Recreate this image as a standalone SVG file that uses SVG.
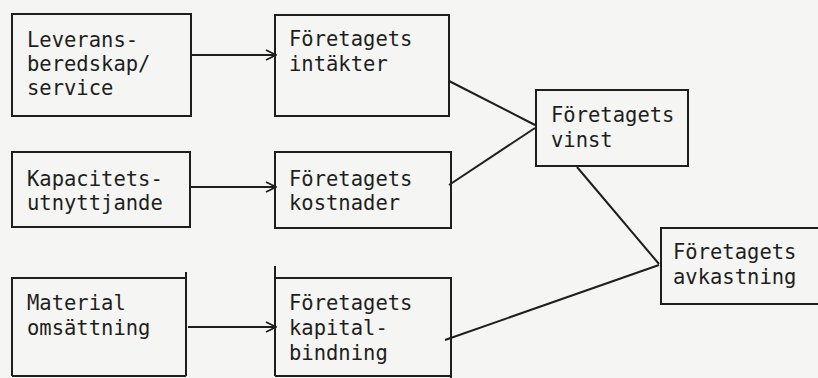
<svg xmlns="http://www.w3.org/2000/svg" width="818" height="378" viewBox="0 0 818 378">
<defs>
<style>
.box{fill:none;stroke:#1e1e1e;stroke-width:2}
.ln{fill:none;stroke:#1e1e1e;stroke-width:2}
text{font-family:"DejaVu Sans Mono","Liberation Mono",monospace;font-size:20.5px;fill:#1e1e1e}
</style>
<marker id="ah" viewBox="0 0 12 12" refX="11" refY="6" markerWidth="12" markerHeight="12" markerUnits="userSpaceOnUse" orient="auto">
<path d="M1,1 L11,6 L1,11" fill="none" stroke="#1e1e1e" stroke-width="1.8"/>
</marker>
</defs>
<rect width="818" height="378" fill="#f5f5f3"/>
<g id="n-leverans">
<rect class="box" x="12" y="14" width="179" height="102"/>
<text x="27" y="47">Leverans-</text>
<text x="27" y="71">beredskap/</text>
<text x="27" y="95">service</text>
</g>
<g id="n-kapacitet">
<rect class="box" x="12" y="152" width="178" height="75"/>
<text x="27" y="186">Kapacitets-</text>
<text x="27" y="210">utnyttjande</text>
</g>
<g id="n-material">
<path class="box" d="M12,376 V278 H186 V376 M12,376 H186 M186,278 V272"/>
<text x="27" y="310">Material</text>
<text x="27" y="335">omsättning</text>
</g>
<g id="n-intakter">
<rect class="box" x="275" y="15" width="174" height="101"/>
<text x="289" y="46">Företagets</text>
<text x="289" y="71">intäkter</text>
</g>
<g id="n-kostnader">
<rect class="box" x="275" y="152" width="176" height="76"/>
<text x="289" y="186">Företagets</text>
<text x="289" y="210">kostnader</text>
</g>
<g id="n-kapital">
<path class="box" d="M275,266 V376 M275,278 H451 V378 M275,376 H451"/>
<text x="289" y="310">Företagets</text>
<text x="289" y="335">kapital-</text>
<text x="289" y="360">bindning</text>
</g>
<g id="n-vinst">
<rect class="box" x="536" y="90" width="152" height="76"/>
<text x="551" y="122">Företagets</text>
<text x="551" y="147">vinst</text>
</g>
<g id="n-avkastning">
<path class="box" d="M818,228 H661 V304 H818"/>
<text x="673" y="259">Företagets</text>
<text x="673" y="284">avkastning</text>
</g>
<g id="connectors">
<line class="ln" x1="191" y1="55" x2="276" y2="55" marker-end="url(#ah)"/>
<line class="ln" x1="190" y1="187" x2="276" y2="187" marker-end="url(#ah)"/>
<line class="ln" x1="188" y1="327" x2="276" y2="327" marker-end="url(#ah)"/>
<line class="ln" x1="449" y1="81" x2="535" y2="125"/>
<line class="ln" x1="449" y1="185" x2="535" y2="128"/>
<line class="ln" x1="577" y1="167" x2="659" y2="264"/>
<line class="ln" x1="445" y1="340" x2="659" y2="265"/>
</g>
</svg>
